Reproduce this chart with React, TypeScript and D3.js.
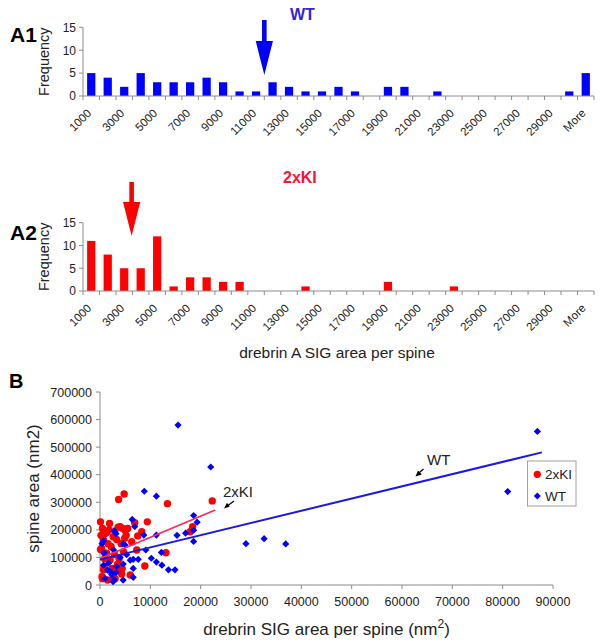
import React from "react";
import * as d3 from "d3";

// ---------- histogram data ----------
const binLabels = [
  "1000", "2000", "3000", "4000", "5000", "6000", "7000", "8000", "9000", "10000",
  "11000", "12000", "13000", "14000", "15000", "16000", "17000", "18000", "19000", "20000",
  "21000", "22000", "23000", "24000", "25000", "26000", "27000", "28000", "29000", "30000",
  "More",
];
const wtFreq = [5, 4, 2, 5, 3, 3, 3, 4, 3, 1, 1, 3, 2, 1, 1, 2, 1, 0, 2, 2, 0, 1, 0, 0, 0, 0, 0, 0, 0, 1, 5];
const kiFreq = [11, 8, 5, 5, 12, 1, 3, 3, 2, 2, 0, 0, 0, 1, 0, 0, 0, 0, 2, 0, 0, 0, 1, 0, 0, 0, 0, 0, 0, 0, 0];
const freqTicks = [0, 5, 10, 15];
const wtMeanBin = 11.0; // arrow position, in bins
const kiMeanBin = 2.95;

// ---------- scatter data ----------
const wtPoints: [number, number][] = [
  [15500, 580000], [22000, 428000], [8800, 340000], [11200, 322000], [6400, 238000],
  [6900, 212000], [2800, 197000], [3200, 186000], [700, 160000], [400, 150000],
  [800, 117000], [2700, 127000], [5000, 145000], [8700, 181000], [9100, 127000],
  [11200, 181000], [12200, 118000], [10200, 97000], [11200, 83000], [12300, 72000],
  [13600, 55000], [14900, 55000], [15300, 180000], [17000, 188000], [18600, 252000],
  [18600, 199000], [19300, 228000], [18600, 158000], [29000, 150000], [32600, 168000],
  [36900, 149000], [81000, 339000], [86900, 557000], [6600, 93000], [7600, 93000],
  [6600, 60000], [6600, 28000], [4600, 76000], [3200, 45000], [2300, 38000],
  [1700, 79000], [1500, 54000], [2800, 20000], [3000, 193000], [4600, 150000],
  [6000, 90000], [700, 72000], [2000, 49000], [3300, 67000], [1000, 24000],
  [2600, 12000], [4600, 18000], [800, 115000], [5300, 110000], [4000, 100000],
];
const kiPoints: [number, number][] = [
  [22300, 305000], [13400, 295000], [4800, 330000], [3700, 310000], [100, 229000],
  [1900, 223000], [6900, 226000], [9400, 229000], [4000, 211000], [5000, 199000],
  [1300, 190000], [8300, 193000], [18400, 211000], [17900, 193000], [6300, 157000],
  [2600, 175000], [7300, 127000], [13100, 117000], [8900, 69000], [6000, 36000],
  [100, 129000], [1000, 115000], [800, 66000], [400, 30000], [1500, 18000],
  [2600, 30000], [4000, 57000], [2000, 91000], [4500, 205000], [3600, 210000],
  [1000, 187000], [700, 163000], [300, 133000], [1300, 115000], [700, 55000],
  [500, 23000], [3000, 23000], [4200, 150000], [3300, 165000], [5200, 180000],
  [2200, 140000], [3800, 95000], [4700, 120000], [4400, 60000], [1800, 200000],
  [200, 180000], [2900, 110000], [4300, 40000], [900, 95000], [4900, 170000],
  [3500, 75000], [1600, 150000], [500, 205000], [5500, 205000], [7500, 178000],
  [2400, 60000],
];
const wtFit: [number, number][] = [[0, 92000], [87800, 481000]];
const kiFit: [number, number][] = [[0, 96000], [22900, 272000]];
const xTicksB = [0, 10000, 20000, 30000, 40000, 50000, 60000, 70000, 80000, 90000];
const yTicksB = [0, 100000, 200000, 300000, 400000, 500000, 600000, 700000];

const FONT = "'Liberation Sans', Arial, Helvetica, sans-serif";
const AXIS = "#8c8c8c";
const TXT = "#222";

function Histogram({
  freq, color, axisY, topY, panel, panelY, title, titleX, titleY, titleColor, meanBin,
  arrowTop, arrowTip,
}: {
  freq: number[]; color: string; axisY: number; topY: number; panel: string; panelY: number;
  title: string; titleX: number; titleY: number; titleColor: string; meanBin: number;
  arrowTop: number; arrowTip: number;
}) {
  const x0 = 83, x1 = 594;
  const xb = d3.scaleBand<string>().domain(binLabels).range([x0, x1]).paddingInner(0.5).paddingOuter(0.25);
  const y = d3.scaleLinear().domain([0, 15]).range([axisY, topY]);
  const step = (x1 - x0) / binLabels.length;
  const arrowX = x0 + meanBin * step;
  const headTop = arrowTip - 34;
  return (
    <g>
      <text x={10} y={panelY} fontFamily={FONT} fontWeight="bold" fontSize={21} fill="#000">{panel}</text>
      <text x={titleX} y={titleY} fontFamily={FONT} fontWeight="bold" fontSize={16} fill={titleColor}>{title}</text>
      {/* arrow */}
      <rect x={arrowX - 2.3} y={arrowTop} width={4.6} height={headTop - arrowTop + 1} fill={color} />
      <path d={`M${arrowX - 8.6},${headTop} L${arrowX + 8.6},${headTop} L${arrowX},${arrowTip} Z`} fill={color} />
      {/* y axis */}
      <line x1={x0} x2={x0} y1={topY} y2={axisY} stroke={AXIS} />
      {freqTicks.map((t) => (
        <g key={t}>
          <line x1={x0 - 4} x2={x0} y1={y(t)} y2={y(t)} stroke={AXIS} />
          <text x={x0 - 7} y={y(t)} dy="0.36em" textAnchor="end" fontFamily={FONT} fontSize={12} fill={TXT}>{t}</text>
        </g>
      ))}
      <text transform={`translate(49,${(topY + axisY) / 2}) rotate(-90)`} textAnchor="middle" fontFamily={FONT} fontSize={14.5} fill={TXT}>Frequency</text>
      {/* bars */}
      {freq.map((f, i) =>
        f > 0 ? (
          <rect key={i} x={xb(binLabels[i])} y={y(f)} width={xb.bandwidth()} height={axisY - y(f)} fill={color} />
        ) : null
      )}
      {/* x axis */}
      <line x1={x0} x2={x1} y1={axisY} y2={axisY} stroke={AXIS} />
      {d3.range(binLabels.length + 1).map((i) => (
        <line key={i} x1={x0 + i * step} x2={x0 + i * step} y1={axisY} y2={axisY + 4} stroke={AXIS} />
      ))}
      {binLabels.map((lab, i) =>
        i % 2 === 0 ? (
          <text key={lab} transform={`translate(${x0 + (i + 0.5) * step - 2},${axisY + 15}) rotate(-45)`}
            textAnchor="end" dy="0.35em" fontFamily={FONT} fontSize={11.5} fill={TXT}>{lab}</text>
        ) : null
      )}
    </g>
  );
}

function Scatter() {
  const x = d3.scaleLinear().domain([0, 90000]).range([100, 553]);
  const y = d3.scaleLinear().domain([0, 700000]).range([585, 392]);
  const line = d3.line<[number, number]>().x((d) => x(d[0])).y((d) => y(d[1]));
  const diamond = (cx: number, cy: number, r: number) =>
    `M${cx},${cy - r} L${cx + r},${cy} L${cx},${cy + r} L${cx - r},${cy} Z`;
  return (
    <g>
      <text x={9} y={388} fontFamily={FONT} fontWeight="bold" fontSize={20} fill="#000">B</text>
      {/* axes */}
      <line x1={x(0)} x2={x(0)} y1={y(700000)} y2={y(0)} stroke={AXIS} />
      <line x1={x(0)} x2={x(90000)} y1={y(0)} y2={y(0)} stroke={AXIS} />
      {yTicksB.map((t) => (
        <g key={t}>
          <line x1={x(0) - 4} x2={x(0)} y1={y(t)} y2={y(t)} stroke={AXIS} />
          <text x={x(0) - 8} y={y(t)} dy="0.36em" textAnchor="end" fontFamily={FONT} fontSize={12.5} fill={TXT}>{t}</text>
        </g>
      ))}
      {xTicksB.map((t) => (
        <g key={t}>
          <line x1={x(t)} x2={x(t)} y1={y(0)} y2={y(0) + 4} stroke={AXIS} />
          <text x={x(t)} y={y(0) + 21} textAnchor="middle" fontFamily={FONT} fontSize={12.5} fill={TXT}>{t}</text>
        </g>
      ))}
      <text transform={`translate(39,${(y(0) + y(700000)) / 2}) rotate(-90)`} textAnchor="middle" fontFamily={FONT} fontSize={17} fill={TXT}>spine area (nm2)</text>
      <text x={(x(0) + x(90000)) / 2} y={635} textAnchor="middle" fontFamily={FONT} fontSize={17} fill={TXT}>
        drebrin SIG area per spine (nm<tspan dy={-7} fontSize={12}>2</tspan><tspan dy={7}>)</tspan>
      </text>
      {/* points */}
      {kiPoints.map((p, i) => (
        <circle key={"k" + i} cx={x(p[0])} cy={y(p[1])} r={3.7} fill="#ff0000" />
      ))}
      {wtPoints.map((p, i) => (
        <path key={"w" + i} d={diamond(x(p[0]), y(p[1]), 3.6)} fill="#0000ff" />
      ))}
      {/* fits */}
      <path d={line(kiFit) || ""} stroke="#ff2a55" strokeWidth={1.8} fill="none" />
      <path d={line(wtFit) || ""} stroke="#1a1ae0" strokeWidth={2} fill="none" />
      {/* annotations */}
      <text x={223} y={497} fontFamily={FONT} fontSize={15} fill={TXT}>2xKI</text>
      <line x1={234} y1={501} x2={228} y2={505.5} stroke="#000" strokeWidth={1.2} />
      <path d="M224,508.5 L227,502.8 L229.8,506.5 Z" fill="#000" />
      <text x={427} y={465} fontFamily={FONT} fontSize={15} fill={TXT}>WT</text>
      <line x1={423.5} y1={469} x2={419.5} y2={472.5} stroke="#000" strokeWidth={1.2} />
      <path d="M415.5,476.5 L418,470.6 L421.8,474.5 Z" fill="#000" />
      {/* legend */}
      <rect x={527.5} y={461} width={48.5} height={45} fill="#fff" stroke="#a0a0a0" />
      <circle cx={537.3} cy={474.3} r={3.6} fill="#ff0000" />
      <text x={545} y={479} fontFamily={FONT} fontSize={13.5} fill={TXT}>2xKI</text>
      <path d={diamond(537.3, 496, 3.5)} fill="#0000ff" />
      <text x={545} y={501} fontFamily={FONT} fontSize={13.5} fill={TXT}>WT</text>
    </g>
  );
}

export default function App() {
  return (
    <svg width={604} height={644} style={{ display: "block", position: "absolute", left: 0, top: 0, background: "#fff" }}>
      <rect width={604} height={644} fill="#fff" />
      <Histogram freq={wtFreq} color="#0000ff" axisY={96} topY={27.3} panel="A1" panelY={42}
        title="WT" titleX={290} titleY={20} titleColor="#3322dd" meanBin={wtMeanBin} arrowTop={20} arrowTip={75} />
      <Histogram freq={kiFreq} color="#ff0000" axisY={291} topY={222.7} panel="A2" panelY={240}
        title="2xKI" titleX={283} titleY={183} titleColor="#ff1133" meanBin={kiMeanBin} arrowTop={182} arrowTip={236} />
      <text x={337} y={358} textAnchor="middle" fontFamily={FONT} fontSize={15.5} fill={TXT}>drebrin A SIG area per spine</text>
      <Scatter />
    </svg>
  );
}
